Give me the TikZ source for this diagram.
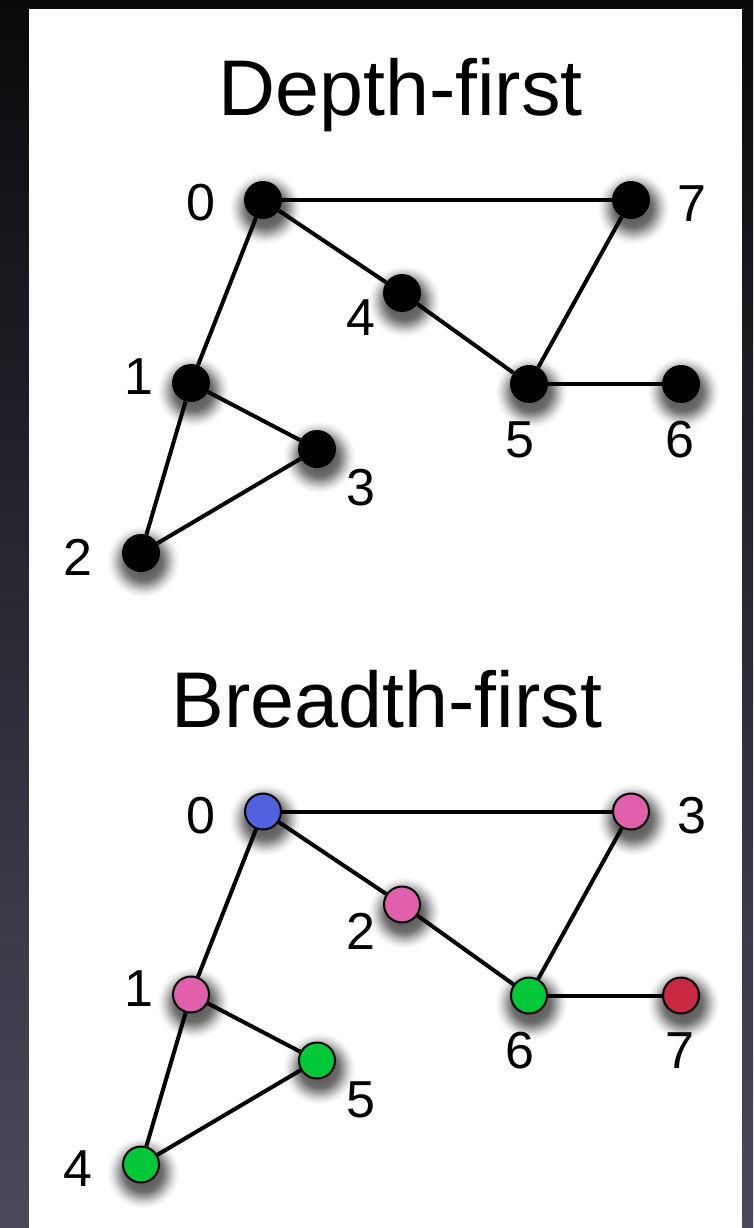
\documentclass[tikz,border=0pt]{standalone}
\usepackage{fontspec}
\setmainfont{Liberation Sans}
\definecolor{bgtop}{RGB}{10,10,12}
\definecolor{bgbot}{RGB}{76,72,92}
\definecolor{vblue}{RGB}{82,98,222}
\definecolor{vpink}{RGB}{224,96,172}
\definecolor{vgreen}{RGB}{0,200,56}
\definecolor{vred}{RGB}{200,40,64}
% soft shadow under each vertex
\pgfdeclareradialshading{nodeshadow}{\pgfpoint{0bp}{0bp}}{color(0bp)=(black!70); color(13bp)=(black!58); color(16bp)=(black!42); color(19bp)=(black!24); color(22bp)=(black!9); color(25bp)=(white); color(50bp)=(white)}
\begin{document}
\begin{tikzpicture}[x=1pt,y=-1pt,
  edge/.style={line width=4pt},
  vtx/.style={circle, inner sep=0pt, minimum size=38pt},
  dfsv/.style={vtx, fill=black},
  bfsv/.style={vtx, draw=black, line width=2pt, minimum size=36pt},
  lbl/.style={inner sep=0pt, font=\fontsize{52}{52}\selectfont},
  title/.style={inner sep=0pt, anchor=base, font=\fontsize{79}{79}\selectfont}]

% backdrop and white sheet
\shade[top color=bgtop, bottom color=bgbot] (0,0) rectangle (753,1228);
\fill[white] (28.7,9) rectangle (742,1228);
\useasboundingbox (0,0) rectangle (753,1228);

% titles
\node[title] (t1) at (400.5,116) {Depth-first};
\node[title] (t2) at (387,727.5) {Breadth-first};

% vertex positions: depth-first graph
\coordinate (pd0) at (263,200);
\coordinate (pd7) at (631,200);
\coordinate (pd4) at (402,293);
\coordinate (pd1) at (191,383);
\coordinate (pd5) at (529,384);
\coordinate (pd6) at (681,384);
\coordinate (pd3) at (317,449);
\coordinate (pd2) at (141,553);
% vertex positions: breadth-first graph
\coordinate (pb0) at (263,811.5);
\coordinate (pb3) at (631,811.5);
\coordinate (pb2) at (402,904.5);
\coordinate (pb1) at (191,994.5);
\coordinate (pb6) at (529,995.5);
\coordinate (pb7) at (681,995.5);
\coordinate (pb5) at (317,1060.5);
\coordinate (pb4) at (141,1164.5);

% shadows
\foreach \p in {pd0,pd1,pd2,pd3,pd4,pd5,pd6,pd7,pb0,pb1,pb2,pb3,pb4,pb5,pb6,pb7}
  \shade[shading=nodeshadow] ([shift={(2,8)}]\p) circle (36);

% depth-first vertices
\node[dfsv] (d0) at (pd0) {};
\node[dfsv] (d1) at (pd1) {};
\node[dfsv] (d2) at (pd2) {};
\node[dfsv] (d3) at (pd3) {};
\node[dfsv] (d4) at (pd4) {};
\node[dfsv] (d5) at (pd5) {};
\node[dfsv] (d6) at (pd6) {};
\node[dfsv] (d7) at (pd7) {};

% breadth-first vertices
\node[bfsv, fill=vblue]  (b0) at (pb0) {};
\node[bfsv, fill=vpink]  (b1) at (pb1) {};
\node[bfsv, fill=vpink]  (b2) at (pb2) {};
\node[bfsv, fill=vpink]  (b3) at (pb3) {};
\node[bfsv, fill=vgreen] (b4) at (pb4) {};
\node[bfsv, fill=vgreen] (b5) at (pb5) {};
\node[bfsv, fill=vgreen] (b6) at (pb6) {};
\node[bfsv, fill=vred]   (b7) at (pb7) {};

% depth-first edges
\draw[edge] (d0) -- (d7);
\draw[edge] (d0) -- (d4);
\draw[edge] (d4) -- (d5);
\draw[edge] (d5) -- (d7);
\draw[edge] (d5) -- (d6);
\draw[edge] (d0) -- (d1);
\draw[edge] (d1) -- (d3);
\draw[edge] (d1) -- (d2);
\draw[edge] (d2) -- (d3);

% breadth-first edges
\draw[edge] (b0) -- (b3);
\draw[edge] (b0) -- (b2);
\draw[edge] (b2) -- (b6);
\draw[edge] (b6) -- (b3);
\draw[edge] (b6) -- (b7);
\draw[edge] (b0) -- (b1);
\draw[edge] (b1) -- (b5);
\draw[edge] (b1) -- (b4);
\draw[edge] (b4) -- (b5);

% depth-first labels
\node[lbl] (ld0) at (201,203) {0};
\node[lbl] (ld7) at (692,204) {7};
\node[lbl] (ld4) at (361,318) {4};
\node[lbl] (ld1) at (139,377) {1};
\node[lbl] (ld3) at (361,488) {3};
\node[lbl] (ld2) at (78,557) {2};
\node[lbl] (ld5) at (520,439.5) {5};
\node[lbl] (ld6) at (680,439.5) {6};

% breadth-first labels
\node[lbl] (lb0) at (201,815.5) {0};
\node[lbl] (lb3) at (692,815.5) {3};
\node[lbl] (lb2) at (361,931) {2};
\node[lbl] (lb1) at (139,988.5) {1};
\node[lbl] (lb5) at (361,1099.5) {5};
\node[lbl] (lb4) at (78,1168.5) {4};
\node[lbl] (lb6) at (520,1051) {6};
\node[lbl] (lb7) at (680,1051) {7};
\end{tikzpicture}
\end{document}
